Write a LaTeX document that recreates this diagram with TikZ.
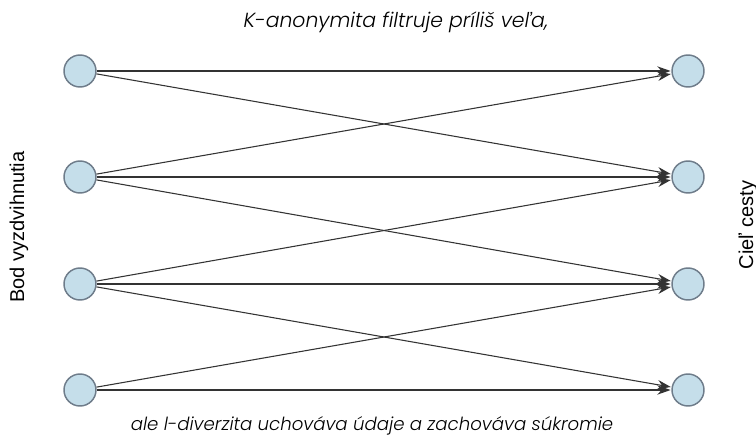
\documentclass[tikz,border=0pt]{standalone}
\usepackage{fontspec}
\setmainfont{Liberation Sans}
\newfontfamily\capfont[ItalicFont={Poppins Light Italic}]{Poppins Light}
\usetikzlibrary{arrows.meta}

\tikzset{
  pt/.style={circle, draw={rgb, 255:red, 110; green, 124; blue, 138}, line width=1.1pt,
    fill={rgb, 255:red, 197; green, 222; blue, 234}, minimum size=24pt, inner sep=0pt},
  ln/.style={draw={rgb, 255:red, 51; green, 51; blue, 51}, line width=0.8pt,
    -{Stealth[length=10pt,width=7pt]}, shorten >=0.5pt}
}

\begin{document}
\begin{tikzpicture}[x=0.75pt,y=0.75pt,yscale=-1,xscale=1]
\useasboundingbox (0,0) rectangle (756,443);

%Shape: Circle (pickup)
\node [pt] (p1) at (80,71) {};
\node [pt] (p2) at (80,177) {};
\node [pt] (p3) at (80,284) {};
\node [pt] (p4) at (80,390) {};
%Shape: Circle (dropoff)
\node [pt] (d1) at (688,71) {};
\node [pt] (d2) at (688,177) {};
\node [pt] (d3) at (688,284) {};
\node [pt] (d4) at (688,390) {};

%Straight Lines
\draw [ln] (p1) -- (d1);
\draw [ln] (p1) -- (d2);
\draw [ln] (p2) -- (d1);
\draw [ln] (p2) -- (d2);
\draw [ln] (p2) -- (d3);
\draw [ln] (p3) -- (d2);
\draw [ln] (p3) -- (d3);
\draw [ln] (p3) -- (d4);
\draw [ln] (p4) -- (d3);
\draw [ln] (p4) -- (d4);

% Text Node
\node (top) at (396,22) [font=\capfont\itshape\fontsize{15.3}{18}\selectfont] {K-anonymita filtruje príliš veľa,};
% Text Node
\node (bot) at (372,426) [font=\capfont\itshape\fontsize{13.6}{16}\selectfont] {ale l-diverzita uchováva údaje a zachováva súkromie};
% Text Node
\node (lft) at (19,227) [rotate=90, font=\fontsize{15}{17}\selectfont] {Bod vyzdvihnutia};
% Text Node
\node (rgt) at (748,225) [rotate=90, font=\fontsize{15}{17}\selectfont] {Cieľ cesty};

\end{tikzpicture}
\end{document}
